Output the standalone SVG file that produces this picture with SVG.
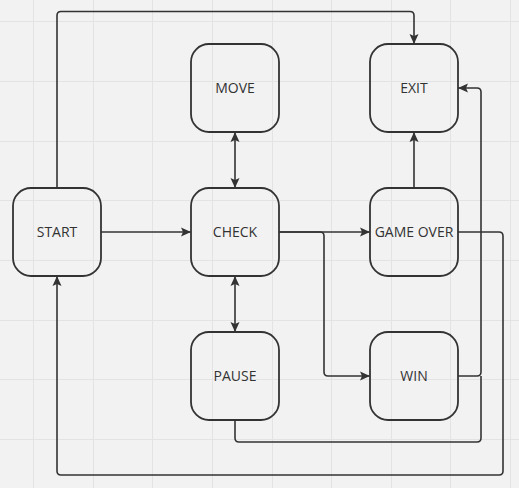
<svg xmlns="http://www.w3.org/2000/svg" width="519" height="488" viewBox="0 0 519 488">
<style>
.grid line{stroke:#e3e3e3;stroke-width:1}
.node rect{fill:none;stroke:#333;stroke-width:1.8}
.node text{font-family:"Open Sans","Liberation Sans",sans-serif;font-size:14px;fill:#333;text-anchor:middle}
.edge{fill:none;stroke:#333;stroke-width:1.6}
</style>
<defs>
<marker id="arr" viewBox="0 0 10 10" refX="10" refY="5" markerWidth="10" markerHeight="10" markerUnits="userSpaceOnUse" orient="auto-start-reverse">
<path d="M0,0.5 L10,5 L0,9.5 L2,5 z" fill="#333"/>
</marker>
</defs>
<rect width="519" height="488" fill="#f2f2f2"/>
<g class="grid">
<line x1="33.5" y1="0" x2="33.5" y2="488"/>
<line x1="93.5" y1="0" x2="93.5" y2="488"/>
<line x1="152.5" y1="0" x2="152.5" y2="488"/>
<line x1="212.5" y1="0" x2="212.5" y2="488"/>
<line x1="272.5" y1="0" x2="272.5" y2="488"/>
<line x1="331.5" y1="0" x2="331.5" y2="488"/>
<line x1="391.5" y1="0" x2="391.5" y2="488"/>
<line x1="450.5" y1="0" x2="450.5" y2="488"/>
<line x1="510.5" y1="0" x2="510.5" y2="488"/>
<line x1="0" y1="21.5" x2="519" y2="21.5"/>
<line x1="0" y1="81.5" x2="519" y2="81.5"/>
<line x1="0" y1="141.5" x2="519" y2="141.5"/>
<line x1="0" y1="200.5" x2="519" y2="200.5"/>
<line x1="0" y1="260.5" x2="519" y2="260.5"/>
<line x1="0" y1="320.5" x2="519" y2="320.5"/>
<line x1="0" y1="379.5" x2="519" y2="379.5"/>
<line x1="0" y1="439.5" x2="519" y2="439.5"/>
</g>
<g id="connectors">
<path class="edge" d="M57,188 V15.5 Q57,11.5 61,11.5 H410 Q414,11.5 414,15.5 V44" marker-end="url(#arr)"/>
<path class="edge" d="M235,132 V188" marker-start="url(#arr)" marker-end="url(#arr)"/>
<path class="edge" d="M414,188 V132" marker-end="url(#arr)"/>
<path class="edge" d="M458,376 H477 Q481,376 481,372 V92 Q481,88 477,88 H458" marker-end="url(#arr)"/>
<path class="edge" d="M235,420 V438 Q235,442 239,442 H477 Q481,442 481,438 V376"/>
<path class="edge" d="M101,232 H191" marker-end="url(#arr)"/>
<path class="edge" d="M279,232 H370" marker-end="url(#arr)"/>
<path class="edge" d="M279,232 H320 Q324,232 324,236 V372 Q324,376 328,376 H370" marker-end="url(#arr)"/>
<path class="edge" d="M458,232 H499 Q503,232 503,236 V471 Q503,475 499,475 H61 Q57,475 57,471 V276" marker-end="url(#arr)"/>
<path class="edge" d="M235,276 V332" marker-start="url(#arr)" marker-end="url(#arr)"/>
</g>
<g id="move" class="node"><rect x="191" y="44" width="88" height="88" rx="18"/><text x="235" y="93">MOVE</text></g>
<g id="exit" class="node"><rect x="370" y="44" width="88" height="88" rx="18"/><text x="414" y="93">EXIT</text></g>
<g id="start" class="node"><rect x="13" y="188" width="88" height="88" rx="18"/><text x="57" y="237">START</text></g>
<g id="check" class="node"><rect x="191" y="188" width="88" height="88" rx="18"/><text x="235" y="237">CHECK</text></g>
<g id="gameover" class="node"><rect x="370" y="188" width="88" height="88" rx="18"/><text x="414" y="237">GAME OVER</text></g>
<g id="pause" class="node"><rect x="191" y="332" width="88" height="88" rx="18"/><text x="235" y="381">PAUSE</text></g>
<g id="win" class="node"><rect x="370" y="332" width="88" height="88" rx="18"/><text x="414" y="381">WIN</text></g>
</svg>
